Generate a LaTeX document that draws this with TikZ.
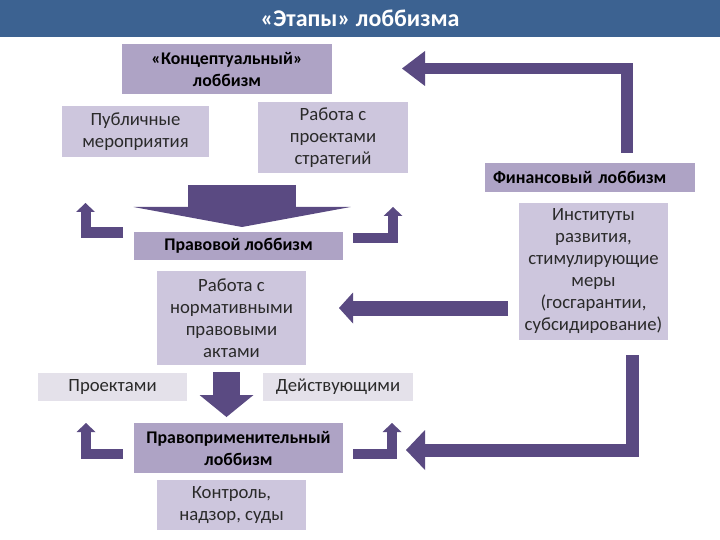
\documentclass[tikz,border=0pt]{standalone}
\usepackage{fontspec}
\setmainfont{Carlito}
\usetikzlibrary{arrows.meta}
\definecolor{titlebg}{HTML}{3C6291}
\definecolor{boxdark}{HTML}{AEA3C5}
\definecolor{boxmid}{HTML}{CDC6DD}
\definecolor{boxlight}{HTML}{E4E1EA}
\definecolor{arrcol}{HTML}{5A4A82}
\definecolor{txt}{HTML}{2A2A2A}
\begin{document}
\begin{tikzpicture}[x=1pt,y=-1pt,
  box/.style={inner sep=0pt, align=center, text=txt, font=\fontsize{18.7}{22}\selectfont},
  darkbox/.style={box, fill=boxdark, text=black, font=\bfseries\fontsize{17.8}{22}\selectfont},
  midbox/.style={box, fill=boxmid},
  lightbox/.style={box, fill=boxlight},
  blockarrow/.style={draw=arrcol, line join=miter, line cap=butt}
]
\useasboundingbox (0,0) rectangle (720,540);
\fill[white] (0,0) rectangle (720,540);
% title
\fill[titlebg] (0,0) rectangle (720,37);
\node[font=\bfseries\fontsize{24}{28}\selectfont, text=white] (title) at (360,18.5) {«Этапы» лоббизма};

% boxes
\node[darkbox, minimum width=210pt, minimum height=50pt] (concept) at (227,69) {«Концептуальный»\\лоббизм};
\node[midbox, minimum width=147pt, minimum height=51pt] (public) at (135.5,131.5) {Публичные\\мероприятия};
\node[midbox, minimum width=150pt, minimum height=71pt] (strat) at (333,137.5) {Работа с\\проектами\\стратегий};
\node[darkbox, minimum width=209pt, minimum height=28pt] (legal) at (238.5,246) {Правовой лоббизм};
\node[midbox, minimum width=149pt, minimum height=94pt] (norm) at (231.5,318) {Работа с\\нормативными\\правовыми\\актами};
\node[darkbox, minimum width=210pt, minimum height=29pt, text width=194pt, align=left] (fin) at (590,177.5) {Финансовый лоббизм};
\node[midbox, minimum width=149pt, minimum height=137pt] (inst) at (593.5,271.5) {Институты\\развития,\\стимулирующие\\меры\\(госгарантии,\\субсидирование)};
\node[lightbox, minimum width=149pt, minimum height=28pt] (proj) at (112.5,387) {Проектами};
\node[lightbox, minimum width=150pt, minimum height=28pt] (act) at (338,387) {Действующими};
\node[darkbox, minimum width=209pt, minimum height=50pt] (enf) at (238.5,448) {Правоприменительный\\лоббизм};
\node[midbox, minimum width=149pt, minimum height=50pt] (ctrl) at (231.5,505) {Контроль,\\надзор, суды};

% top arrow: finance -> conceptual
\coordinate (a1s) at (627,153);
\coordinate (a1c) at (627,68.5);
\coordinate (a1e) at (402,68.5);
\draw[blockarrow, line width=11.5pt, -{Triangle[length=23pt,width=35pt,line width=0pt]}] (a1s) -- (a1c) -- (a1e);

% big down arrow: conceptual -> legal
\coordinate (a2s) at (242,185);
\coordinate (a2e) at (242,227);
\draw[blockarrow, line width=108pt, -{Triangle[length=20pt,width=217pt,line width=0pt]}] (a2s) -- (a2e);

% small bent arrows around legal
\coordinate (b1s) at (123,232.5);
\coordinate (b1c) at (85.5,232.5);
\coordinate (b1e) at (85.5,203);
\draw[blockarrow, line width=10pt, -{Triangle[length=9pt,width=19pt,line width=0pt]}] (b1s) -- (b1c) -- (b1e);
\coordinate (b2s) at (353,238);
\coordinate (b2c) at (393,238);
\coordinate (b2e) at (393,207);
\draw[blockarrow, line width=10pt, -{Triangle[length=9pt,width=19pt,line width=0pt]}] (b2s) -- (b2c) -- (b2e);

% middle arrow: institutes -> norm
\coordinate (a3s) at (508,308);
\coordinate (a3e) at (339,308);
\draw[blockarrow, line width=15pt, -{Triangle[length=14pt,width=31pt,line width=0pt]}] (a3s) -- (a3e);

% down arrow: norm -> enforcement
\coordinate (a4s) at (226.5,372);
\coordinate (a4e) at (228,417);
\draw[blockarrow, line width=27pt, -{Triangle[length=22pt,width=54pt,line width=0pt]}] (a4s) -- (a4s |- a4e);

% bottom right arrow: institutes -> enforcement
\coordinate (a5s) at (632,355);
\coordinate (a5c) at (632,450);
\coordinate (a5e) at (406,450);
\draw[blockarrow, line width=13pt, -{Triangle[length=19pt,width=40pt,line width=0pt]}] (a5s) -- (a5c) -- (a5e);

% small bent arrows around enforcement
\coordinate (b3s) at (123,453.5);
\coordinate (b3c) at (86,453.5);
\coordinate (b3e) at (86,423);
\draw[blockarrow, line width=10pt, -{Triangle[length=9pt,width=19pt,line width=0pt]}] (b3s) -- (b3c) -- (b3e);
\coordinate (b4s) at (353,453.5);
\coordinate (b4c) at (392,453.5);
\coordinate (b4e) at (392,423);
\draw[blockarrow, line width=10pt, -{Triangle[length=9pt,width=19pt,line width=0pt]}] (b4s) -- (b4c) -- (b4e);
\end{tikzpicture}
\end{document}
